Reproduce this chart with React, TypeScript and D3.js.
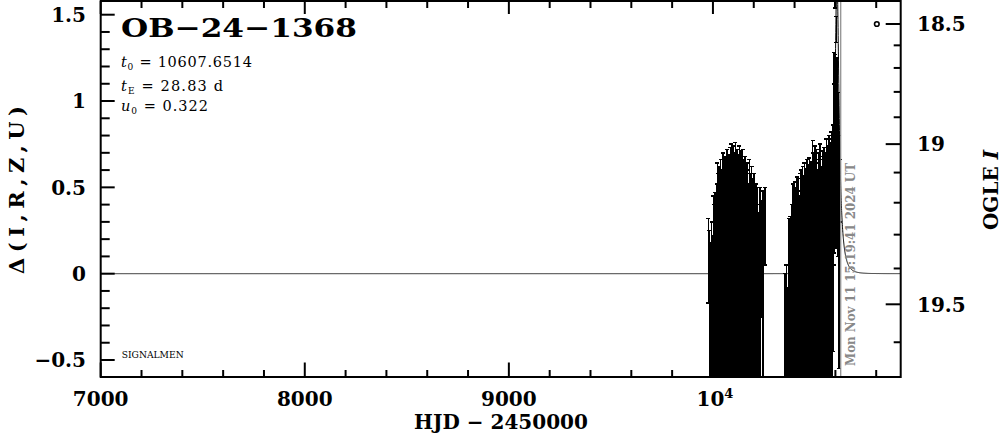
import React from 'react';
import * as d3 from 'd3';

// ---------- data ----------
// photometry: HJD - 2450000, delta flux, error
const hjd = [
  9978, 9982, 9986, 9990, 9994, 9998, 10002, 10006, 10010, 10014, 10018, 10022, 10026, 10030, 10034, 10038,
  10042, 10046, 10050, 10054, 10058, 10062, 10066, 10070, 10074, 10078, 10082, 10086, 10090, 10094, 10098,
  10102, 10106, 10110, 10114, 10118, 10122, 10126, 10130, 10134, 10138, 10142, 10146, 10150, 10154, 10158,
  10162, 10166, 10170, 10174, 10178, 10182, 10186, 10190, 10194, 10198, 10202, 10206, 10210, 10214, 10218,
  10222, 10230, 10238, 10246, 10256,
  10352, 10356, 10360, 10366, 10372, 10376, 10380, 10384, 10388, 10392, 10396, 10400, 10404, 10408, 10412,
  10416, 10420, 10424, 10428, 10432, 10436, 10440, 10444, 10448, 10452, 10456, 10460, 10464, 10468, 10472,
  10476, 10480, 10484, 10488, 10492, 10496, 10500, 10504, 10508, 10512, 10516, 10520, 10524, 10528, 10532,
  10536, 10540, 10544, 10548, 10552, 10556, 10560, 10564, 10568, 10572, 10576, 10580, 10584, 10588, 10591,
  10594, 10597, 10600, 10603, 10605, 10609, 10613, 10617, 10621,
];
const delta = [
  0.075, -0.25, -0.26, -0.34, -0.25, -0.265, -0.175, -0.225, -0.215, -0.22, -0.165, -0.13, -0.185, -0.14, -0.15, -0.12,
  -0.175, -0.14, -0.1, -0.16, -0.11, -0.135, -0.145, -0.09, -0.19, -0.105, -0.15, -0.11, -0.075, -0.16, -0.105,
  -0.14, -0.125, -0.12, -0.12, -0.115, -0.125, -0.13, -0.08, -0.18, -0.12, -0.16, -0.115, -0.12, -0.115, -0.135,
  -0.175, -0.13, -0.175, -0.165, -0.12, -0.16, -0.175, -0.14, -0.15, -0.21, -0.11, -0.2, -0.14, -0.175, -0.15,
  -0.175, -0.15, 0.085, -0.135, 0.275,
  -0.4, -0.425, -0.4, -0.44, -0.265, -0.325, -0.26, -0.3, -0.25, -0.19, -0.2, -0.21, -0.24, -0.175, -0.195,
  -0.21, -0.175, -0.2, -0.185, -0.15, -0.215, -0.14, -0.215, -0.13, -0.2, -0.145, -0.145, -0.16, -0.185, -0.14,
  -0.15, -0.15, -0.17, -0.09, -0.1, -0.19, -0.105, -0.12, -0.115, -0.15, -0.15, -0.13, -0.1, -0.11, -0.165,
  -0.095, -0.145, -0.085, -0.155, -0.1, -0.085, -0.105, -0.105, -0.05, -0.07, -0.07, -0.015, 0.09, 0.205, 0.575,
  0.7, 1.64, 0.735, 0.685, 1.415, 0.8, 0.575, 0.125, 0.48,
];
const sigma = [
  0.245, 0.5, 0.44, 0.46, 0.55, 0.485, 0.625, 0.625, 0.685, 0.58, 0.685, 0.77, 0.765, 0.76, 0.7, 0.78,
  0.775, 0.66, 0.8, 0.79, 0.79, 0.715, 0.805, 0.81, 0.81, 0.795, 0.7, 0.84, 0.825, 0.84, 0.845,
  0.76, 0.825, 0.88, 0.78, 0.835, 0.725, 0.82, 0.82, 0.82, 0.83, 0.74, 0.835, 0.78, 0.735, 0.815,
  0.725, 0.77, 0.775, 0.685, 0.78, 0.74, 0.675, 0.76, 0.7, 0.69, 0.69, 0.65, 0.66, 0.575, 0.65,
  0.525, 0.65, 0.335, 0.615, 0.225,
  0.4, 0.325, 0.45, 0.36, 0.585, 0.575, 0.59, 0.5, 0.65, 0.71, 0.65, 0.74, 0.66, 0.675, 0.755,
  0.69, 0.725, 0.65, 0.765, 0.75, 0.735, 0.76, 0.785, 0.77, 0.75, 0.755, 0.805, 0.74, 0.815, 0.81,
  0.75, 0.8, 0.73, 0.86, 0.8, 0.81, 0.845, 0.78, 0.835, 0.75, 0.85, 0.77, 0.85, 0.79, 0.785,
  0.805, 0.805, 0.815, 0.795, 0.8, 0.865, 0.795, 0.845, 0.85, 0.78, 0.83, 0.835, 0.69, 0.655, 0.525,
  0.58, 0.1, 0.535, 0.535, 0.075, 0.45, 0.475, 0.675, 0.18,
];

// model parameters
const eventName = 'OB\u221224\u22121368';
const t0 = 10607.6514;
const tE = 28.83;
const u0 = 0.322;
const fsBlend = 0.78;
const nowHJD = 10626.14;
const nowLabel = 'Mon Nov 11 15:19:41 2024 UT';

// axes
const xDomain = [7000, 10920];
const xMajor = [7000, 8000, 9000, 10000];
const xMajorLabels = ['7000', '8000', '9000', '10'];
const xMinor = d3.range(7200, 10900, 200).filter((v) => v % 1000 !== 0);
const yMajor = [-0.5, 0, 0.5, 1, 1.5];
const yMajorLabels = ['\u22120.5', '0', '0.5', '1', '1.5'];
const yMinor = d3.range(-5, 16).map((v) => v / 10).filter((v) => Math.abs(v * 2 - Math.round(v * 2)) > 1e-6);
const magMajor = [18.5, 19, 19.5];
const magMajorLabels = ['18.5', '19', '19.5'];
const magMinor = [18.6, 18.7, 18.8, 18.9, 19.1, 19.2, 19.3, 19.4, 19.6];

// ---------- layout ----------
const W = 1004;
const H = 434;
const L = 100.7;
const R = 900.7;
const T = 1;
const B = 377;
const FONT = "'DejaVu Serif', serif";

export default function App() {
  const x = d3.scaleLinear().domain(xDomain).range([L, R]);
  const y = d3.scaleLinear().domain([-0.5, 1.5]).range([360, 14.7]);
  const magU = (m: number) => Math.pow(10, 0.25 * (m - 18.5));
  const yMagLin = d3.scaleLinear().domain([magU(18.5), magU(19.5)]).range([24, 304.3]);
  const yMag = (m: number) => yMagLin(magU(m));

  const modelT = d3.range(xDomain[0], xDomain[1] + 1, 0.5);
  const modelD = modelT.map((t) => {
    const tau = (t - t0) / tE;
    const u = Math.sqrt(u0 * u0 + tau * tau);
    const A = (u * u + 2) / (u * Math.sqrt(u * u + 4));
    return fsBlend * (A - 1);
  });
  const line = d3
    .line<number>()
    .x((_, i) => x(modelT[i]))
    .y((d) => y(d));
  const modelPath = line(modelD) || '';

  const lw = 2;
  return (
    <svg width={W} height={H} style={{ position: 'absolute', left: 0, top: 0, background: '#fff' }}>
      <defs>
        <clipPath id="plot">
          <rect x={L} y={T} width={R - L} height={B - T} />
        </clipPath>
      </defs>
      <rect x={0} y={0} width={W} height={H} fill="#fff" />
      <g clipPath="url(#plot)">
        <path d={modelPath} fill="none" stroke="#000" strokeWidth={1} />
        <g stroke="#000" strokeWidth={1.5} shapeRendering="crispEdges">
          {hjd.map((t, i) => {
            const xi = x(t);
            const y1 = y(delta[i] - sigma[i]);
            const y2 = y(delta[i] + sigma[i]);
            return (
              <g key={i}>
                <line x1={xi} x2={xi} y1={y1} y2={y2} />
                <line x1={xi - 2} x2={xi + 2} y1={y1} y2={y1} />
                <line x1={xi - 2} x2={xi + 2} y1={y2} y2={y2} />
              </g>
            );
          })}
        </g>
        <circle cx={x(10803)} cy={yMag(18.5)} r={2.3} fill="none" stroke="#000" strokeWidth={1.6} />
      </g>
      <line x1={x(nowHJD)} x2={x(nowHJD)} y1={T} y2={B} stroke="#888" strokeWidth={1.2} />
      <text
        transform={`translate(855,366) rotate(-90)`}
        fontFamily={FONT}
        fontWeight="bold"
        fontSize={12.5}
        fill="#888"
        textLength={203}
        lengthAdjust="spacingAndGlyphs"
      >
        {nowLabel}
      </text>

      {/* frame */}
      <rect x={L} y={T} width={R - L} height={B - T} fill="none" stroke="#000" strokeWidth={lw} />

      {/* x ticks */}
      {xMajor.map((v) => (
        <g key={'xM' + v} stroke="#000" strokeWidth={lw}>
          <line x1={x(v)} x2={x(v)} y1={B} y2={B - 14.5} />
          <line x1={x(v)} x2={x(v)} y1={T} y2={T + 13} />
        </g>
      ))}
      {xMinor.map((v) => (
        <g key={'xm' + v} stroke="#000" strokeWidth={lw}>
          <line x1={x(v)} x2={x(v)} y1={B} y2={B - 7} />
          <line x1={x(v)} x2={x(v)} y1={T} y2={T + 7} />
        </g>
      ))}
      {/* left ticks */}
      {yMajor.map((v) => (
        <line key={'yM' + v} x1={L} x2={L + 14} y1={y(v)} y2={y(v)} stroke="#000" strokeWidth={lw} />
      ))}
      {yMinor.map((v) => (
        <line key={'ym' + v} x1={L} x2={L + 9} y1={y(v)} y2={y(v)} stroke="#000" strokeWidth={lw} />
      ))}
      {/* right ticks */}
      {magMajor.map((v) => (
        <line key={'mM' + v} x1={R} x2={R - 15} y1={yMag(v)} y2={yMag(v)} stroke="#000" strokeWidth={lw} />
      ))}
      {magMinor.map((v) => (
        <line key={'mm' + v} x1={R} x2={R - 7} y1={yMag(v)} y2={yMag(v)} stroke="#000" strokeWidth={lw} />
      ))}

      {/* tick labels */}
      <g fontFamily={FONT} fontWeight="bold" fontSize={20} fill="#000">
        {yMajor.map((v, i) => (
          <text key={'yl' + v} x={86} y={y(v) + 7.3} textAnchor="end">
            {yMajorLabels[i]}
          </text>
        ))}
        {xMajor.map((v, i) => (
          <text key={'xl' + v} x={x(v) + (v === 10000 ? 2 : 0)} y={406} textAnchor="middle">
            {xMajorLabels[i]}
            {v === 10000 ? (
              <tspan fontSize={13} dy={-8}>
                4
              </tspan>
            ) : null}
          </text>
        ))}
        {magMajor.map((v, i) => (
          <text key={'ml' + v} x={917} y={yMag(v) + 7.3} textAnchor="start">
            {magMajorLabels[i]}
          </text>
        ))}
        <text x={501} y={429} textAnchor="middle">
          HJD {'\u2212'} 2450000
        </text>
        <text
          transform="translate(24,190) rotate(-90)"
          textAnchor="middle"
          fontSize={21}
          textLength={168}
          lengthAdjust="spacing"
        >
          {'\u0394(I,R,Z,U)'}
        </text>
        <text transform="translate(998,190) rotate(-90)" textAnchor="middle">
          OGLE <tspan fontStyle="italic">I</tspan>
        </text>
      </g>

      {/* title and parameters */}
      <text
        x={121}
        y={37}
        fontFamily={FONT}
        fontWeight="bold"
        fontSize={26}
        textLength={236}
        lengthAdjust="spacingAndGlyphs"
      >
        {eventName}
      </text>
      <g fontFamily={FONT} fontSize={14.5} fill="#000">
        <text x={121} y={66.7} textLength={131} lengthAdjust="spacing">
          <tspan fontStyle="italic">t</tspan>
          <tspan fontSize={9} dy={3}>0</tspan>
          <tspan dy={-3}> = {t0.toFixed(4)}</tspan>
        </text>
        <text x={121} y={90.7} textLength={102} lengthAdjust="spacing">
          <tspan fontStyle="italic">t</tspan>
          <tspan fontSize={9} dy={3}>E</tspan>
          <tspan dy={-3}> = {tE.toFixed(2)} d</tspan>
        </text>
        <text x={121} y={111} textLength={87} lengthAdjust="spacing">
          <tspan fontStyle="italic">u</tspan>
          <tspan fontSize={9} dy={3}>0</tspan>
          <tspan dy={-3}> = {u0.toFixed(3)}</tspan>
        </text>
      </g>
      <text x={121.7} y={358.3} fontFamily={FONT} fontSize={9} textLength={62} lengthAdjust="spacingAndGlyphs">
        SIGNALMEN
      </text>
    </svg>
  );
}
